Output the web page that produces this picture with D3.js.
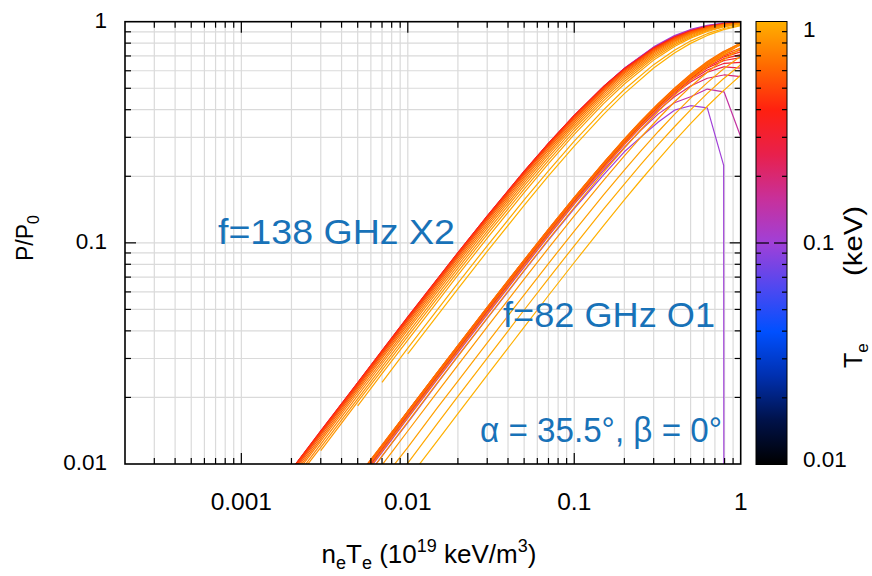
<!DOCTYPE html>
<html>
<head>
<meta charset="utf-8">
<script src="https://cdn.jsdelivr.net/npm/d3@7"></script>
<style>
  body { margin: 0; background: #fff; }
  text { font-family: "Liberation Sans", Arial, Helvetica, sans-serif; }
</style>
</head>
<body>
<svg id="chart" width="872" height="576"></svg>
<script>
// ---- data -------------------------------------------------------------
const xTicks = [0.001, 0.01, 0.1, 1];
const xTickLabels = ["0.001", "0.01", "0.1", "1"];
const yTicks = [0.01, 0.1, 1];
const yTickLabels = ["0.01", "0.1", "1"];
const cbTicks = [0.01, 0.1, 1];
const cbTickLabels = ["0.01", "0.1", "1"];

// electron temperatures (keV) of the plotted curves
const teValues = [0.10, 0.15, 0.20, 0.25, 0.30, 0.35, 0.40, 0.45, 0.50, 0.55,
                  0.60, 0.65, 0.70, 0.75, 0.80, 0.85, 0.90, 0.95, 1.00];

// f = 138 GHz, X2 : ne*Te sample points and P/P0 per temperature
const gridX2 = [0.002, 0.003, 0.005, 0.007, 0.01, 0.02, 0.03, 0.05, 0.07, 0.1,
                0.15, 0.2, 0.3, 0.4, 0.5, 0.63, 0.79, 1.0];
const powerX2 = [
  [.0091,.0136,.0225,.0314,.0446,.0874,.1285,.2057,.2768,.3727,.5074,.6154,.7695,.8650,.9226,.9638,.9865,.9966],
  [.0092,.0138,.0228,.0318,.0452,.0885,.1300,.2076,.2788,.3743,.5076,.6139,.7650,.8590,.9166,.9586,.9831,.9951],
  [.0094,.0139,.0231,.0322,.0457,.0895,.1313,.2093,.2807,.3760,.5086,.6136,.7625,.8551,.9123,.9548,.9804,.9936],
  [.0094,.0141,.0233,.0325,.0461,.0901,.1321,.2105,.2819,.3771,.5090,.6131,.7604,.8520,.9089,.9517,.9780,.9923],
  [.0094,.0141,.0233,.0325,.0461,.0901,.1320,.2102,.2814,.3762,.5074,.6109,.7573,.8486,.9056,.9489,.9760,.9911],
  [.0094,.0141,.0233,.0325,.0461,.0901,.1319,.2100,.2811,.3757,.5065,.6098,.7560,.8475,.9048,.9484,.9757,.9909],
  [.0094,.0139,.0231,.0322,.0457,.0895,.1310,.2086,.2794,.3737,.5044,.6078,.7544,.8462,.9037,.9476,.9752,.9907],
  [.0094,.0139,.0231,.0322,.0457,.0895,.1308,.2082,.2788,.3728,.5030,.6062,.7525,.8446,.9027,.9470,.9749,.9905],
  [.0092,.0138,.0228,.0318,.0452,.0884,.1294,.2063,.2763,.3700,.4999,.6031,.7499,.8424,.9007,.9456,.9740,.9901],
  [.0091,.0136,.0224,.0313,.0444,.0869,.1273,.2031,.2723,.3649,.4939,.5967,.7438,.8373,.8967,.9427,.9723,.9893],
  [.0089,.0133,.0220,.0307,.0435,.0852,.1250,.1995,.2677,.3592,.4870,.5893,.7368,.8314,.8920,.9394,.9703,.9883],
  [.0087,.0130,.0215,.0300,.0426,.0834,.1223,.1955,.2625,.3527,.4793,.5810,.7288,.8245,.8864,.9355,.9678,.9871],
  [.0085,.0127,.0210,.0292,.0415,.0814,.1194,.1910,.2568,.3456,.4706,.5717,.7197,.8166,.8800,.9308,.9649,.9856],
  [.0082,.0123,.0204,.0284,.0404,.0791,.1163,.1861,.2505,.3377,.4610,.5613,.7095,.8076,.8725,.9254,.9614,.9838],
  [.0080,.0119,.0197,.0275,.0391,.0767,.1128,.1809,.2437,.3290,.4504,.5498,.6979,.7973,.8640,.9190,.9572,.9815],
  [null,.0115,.0191,.0266,.0378,.0742,.1091,.1751,.2362,.3195,.4387,.5370,.6849,.7856,.8541,.9116,.9522,.9787],
  [null,null,.0183,.0256,.0363,.0714,.1051,.1689,.2282,.3093,.4259,.5229,.6704,.7724,.8428,.9028,.9462,.9753],
  [null,null,null,.0234,.0334,.0658,.0970,.1563,.2118,.2882,.3995,.4934,.6394,.7433,.8173,.8826,.9318,.9666],
  [null,null,null,null,.0315,.0620,.0915,.1479,.2007,.2739,.3812,.4727,.6171,.7220,.7981,.8668,.9202,.9592]
];

// f = 82 GHz, O1 : ne*Te sample points and P/P0 per temperature
const gridO1 = [0.004, 0.006, 0.008, 0.01, 0.015, 0.02, 0.03, 0.05, 0.07, 0.1,
                0.15, 0.2, 0.25, 0.32, 0.4, 0.5, 0.63, 0.79, 0.795, 1.0];
const powerO1 = [
  [.0062,.0093,.0124,.0154,.0231,.0308,.0455,.0746,.1030,.1430,.2030,.2580,.3000,.3520,.3980,.4170,.4080,.2240,.0001,null],
  [.0065,.0097,.0129,.0161,.0241,.0319,.0474,.0777,.1072,.1495,.2130,.2700,.3220,.3830,.4300,.4580,.4960,.4820,.4810,.3020],
  [.0066,.0099,.0132,.0165,.0247,.0327,.0486,.0797,.1097,.1530,.2180,.2780,.3330,.3980,.4580,.5120,.5550,.5740,.5750,.5640],
  [.0067,.0100,.0133,.0167,.0249,.0330,.0492,.0806,.1109,.1546,.2215,.2827,.3379,.4056,.4705,.5342,.5907,.6246,.6250,.6170],
  [.0068,.0102,.0135,.0169,.0252,.0334,.0497,.0815,.1122,.1563,.2241,.2859,.3419,.4110,.4776,.5440,.6051,.6467,.6475,.6550],
  [.0068,.0102,.0136,.0170,.0253,.0336,.0500,.0820,.1128,.1572,.2254,.2878,.3443,.4145,.4827,.5517,.6175,.6670,.6675,.6880],
  [.0069,.0103,.0137,.0171,.0255,.0338,.0503,.0824,.1134,.1580,.2267,.2895,.3466,.4175,.4867,.5574,.6261,.6804,.6810,.7100],
  [.0069,.0103,.0138,.0172,.0256,.0340,.0506,.0829,.1140,.1589,.2280,.2912,.3486,.4202,.4904,.5626,.6340,.6926,.6932,.7300],
  [.0069,.0104,.0138,.0173,.0258,.0342,.0509,.0833,.1147,.1597,.2292,.2928,.3506,.4228,.4933,.5671,.6406,.7023,.7029,.7450],
  [.0069,.0104,.0138,.0173,.0258,.0342,.0509,.0833,.1147,.1597,.2293,.2930,.3510,.4236,.4947,.5697,.6454,.7106,.7112,.7600],
  [.0070,.0104,.0139,.0173,.0258,.0343,.0510,.0836,.1150,.1601,.2300,.2940,.3524,.4257,.4984,.5748,.6537,.7248,.7253,.7841],
  [.0070,.0105,.0139,.0173,.0259,.0344,.0512,.0838,.1154,.1605,.2307,.2949,.3537,.4275,.5010,.5787,.6601,.7350,.7355,.8014],
  [.0068,.0102,.0135,.0169,.0252,.0334,.0497,.0815,.1122,.1563,.2250,.2880,.3458,.4188,.4918,.5697,.6521,.7297,.7303,.8007],
  [.0066,.0098,.0131,.0163,.0244,.0323,.0480,.0788,.1086,.1513,.2181,.2794,.3360,.4077,.4800,.5576,.6405,.7200,.7206,.7950],
  [.0062,.0093,.0124,.0155,.0232,.0307,.0457,.0751,.1036,.1444,.2086,.2680,.3229,.3930,.4642,.5416,.6257,.7084,.7093,.7899],
  [.0057,.0085,.0113,.0141,.0211,.0280,.0417,.0685,.0946,.1324,.1918,.2472,.2988,.3651,.4333,.5084,.5912,.6743,.6752,.7583],
  [.0048,.0072,.0096,.0119,.0179,.0237,.0353,.0582,.0806,.1131,.1647,.2134,.2592,.3189,.3812,.4512,.5304,.6125,.6137,.6988],
  [.0041,.0061,.0082,.0101,.0152,.0202,.0301,.0497,.0689,.0970,.1419,.1845,.2251,.2785,.3350,.3995,.4741,.5533,.5547,.6394],
  [.0034,.0051,.0068,.0085,.0127,.0169,.0252,.0416,.0578,.0815,.1197,.1563,.1914,.2381,.2882,.3462,.4146,.4890,.4905,.5726]
];

// colour map for Te (position 0 = 0.01 keV, 1 = 1 keV)
const paletteStops = [0, 0.1, 0.2, 0.3, 0.4, 0.5, 0.6, 0.7, 0.8, 0.9, 1];
const paletteColors = ["#000000", "#00124a", "#0030b0", "#0050ff", "#5048f0", "#a040d8",
                       "#c8309a", "#e8204c", "#ff2010", "#ff6a00", "#ffb000"];

// ---- layout -----------------------------------------------------------
const svg = d3.select("#chart");
const plot = { left: 125, right: 740.7, top: 21.7, bottom: 464 };
const cb = { left: 756, right: 787, top: 21.5, bottom: 464.5 };
const blue = "#1872b8";

const x = d3.scaleLog().domain([2e-4, 1]).range([plot.left, plot.right]);
const y = d3.scaleLog().domain([0.01, 1]).range([plot.bottom, plot.top]);
const cbScale = d3.scaleLog().domain([0.01, 1]).range([cb.bottom, cb.top]);

const teToPos = d3.scaleLog().domain([0.01, 1]).range([0, 1]);
const palette = d3.scaleLinear().domain(paletteStops).range(paletteColors)
  .interpolate(d3.interpolateRgb).clamp(true);
const teColor = te => palette(teToPos(te));

function minorValues(lo, hi) {
  const out = [];
  for (let e = Math.floor(Math.log10(lo)); e < Math.ceil(Math.log10(hi)); e++) {
    for (let m = 1; m < 10; m++) {
      const v = m * Math.pow(10, e);
      if (v >= lo * 0.999 && v <= hi * 1.001) out.push(v);
    }
  }
  return out;
}
const xAll = minorValues(2e-4, 1);
const yAll = minorValues(0.01, 1);

// ---- grid -------------------------------------------------------------
const grid = svg.append("g").attr("stroke", "#dadada").attr("stroke-width", 1.2);
grid.selectAll("line.gx").data(xAll.filter(v => v > 2e-4 && v < 1)).join("line")
  .attr("x1", d => x(d)).attr("x2", d => x(d))
  .attr("y1", plot.top).attr("y2", plot.bottom);
grid.selectAll("line.gy").data(yAll.filter(v => v > 0.01 && v < 1)).join("line")
  .attr("x1", plot.left).attr("x2", plot.right)
  .attr("y1", d => y(d)).attr("y2", d => y(d));

// ---- curves -----------------------------------------------------------
svg.append("clipPath").attr("id", "plotClip").append("rect")
  .attr("x", plot.left).attr("y", plot.top)
  .attr("width", plot.right - plot.left).attr("height", plot.bottom - plot.top);

const line = d3.line()
  .defined(d => d[1] != null && d[1] > 0)
  .x(d => x(d[0])).y(d => y(d[1]));

const curves = svg.append("g").attr("clip-path", "url(#plotClip)")
  .attr("fill", "none").attr("stroke-width", 1.2).attr("stroke-linejoin", "round");

function drawFamily(grid, rows) {
  rows.forEach((row, i) => {
    const pts = grid.map((g, k) => [g, row[k]]);
    curves.append("path").attr("d", line(pts)).attr("stroke", teColor(teValues[i]));
  });
}
drawFamily(gridX2, powerX2);
drawFamily(gridO1, powerO1);

// ---- frame and ticks ----------------------------------------------------
const axes = svg.append("g").attr("stroke", "#000");
axes.append("rect").attr("x", plot.left).attr("y", plot.top)
  .attr("width", plot.right - plot.left).attr("height", plot.bottom - plot.top)
  .attr("fill", "none").attr("stroke-width", 1.6);

const isMajor = v => Math.abs(Math.log10(v) - Math.round(Math.log10(v))) < 1e-6;
const xt = xAll.filter(v => v > 2.01e-4 && v < 0.999);
xt.forEach(v => {
  const len = isMajor(v) ? 11 : 6;
  axes.append("line").attr("x1", x(v)).attr("x2", x(v))
    .attr("y1", plot.bottom).attr("y2", plot.bottom - len).attr("stroke-width", 1.2);
  axes.append("line").attr("x1", x(v)).attr("x2", x(v))
    .attr("y1", plot.top).attr("y2", plot.top + len).attr("stroke-width", 1.2);
});
const yt = yAll.filter(v => v > 0.0101 && v < 0.999);
yt.forEach(v => {
  const len = isMajor(v) ? 11 : 6;
  axes.append("line").attr("x1", plot.left).attr("x2", plot.left + len)
    .attr("y1", y(v)).attr("y2", y(v)).attr("stroke-width", 1.2);
  axes.append("line").attr("x1", plot.right).attr("x2", plot.right - len)
    .attr("y1", y(v)).attr("y2", y(v)).attr("stroke-width", 1.2);
});

// tick labels
const labels = svg.append("g").attr("fill", "#000");
labels.selectAll("text.xl").data(xTicks).join("text")
  .attr("font-size", 24.5)
  .attr("x", d => x(d)).attr("y", 510).attr("text-anchor", "middle")
  .text((d, i) => xTickLabels[i]);
labels.selectAll("text.yl").data(yTicks).join("text")
  .attr("font-size", 22.5)
  .attr("x", 107).attr("y", d => y(d) + 6).attr("text-anchor", "end")
  .text((d, i) => yTickLabels[i]);

// axis titles
const xTitle = svg.append("text").attr("x", 429).attr("y", 563)
  .attr("text-anchor", "middle").attr("font-size", 26);
xTitle.append("tspan").text("n");
xTitle.append("tspan").attr("font-size", 18).attr("dy", 6).text("e");
xTitle.append("tspan").attr("dy", -6).text("T");
xTitle.append("tspan").attr("font-size", 18).attr("dy", 6).text("e");
xTitle.append("tspan").attr("dy", -6).text(" (10");
xTitle.append("tspan").attr("font-size", 18).attr("dy", -11).text("19");
xTitle.append("tspan").attr("dy", 11).text(" keV/m");
xTitle.append("tspan").attr("font-size", 18).attr("dy", -11).text("3");
xTitle.append("tspan").attr("dy", 11).text(")");

const yTitle = svg.append("text")
  .attr("transform", "translate(33,238) rotate(-90)")
  .attr("text-anchor", "middle").attr("font-size", 23);
yTitle.append("tspan").text("P/P");
yTitle.append("tspan").attr("font-size", 16).attr("dy", 6).text("0");

// ---- annotations --------------------------------------------------------
const notes = svg.append("g").attr("fill", blue).attr("font-size", 35);
notes.append("text").attr("x", 218).attr("y", 244)
  .attr("textLength", 237).attr("lengthAdjust", "spacingAndGlyphs").text("f=138 GHz X2");
notes.append("text").attr("x", 503).attr("y", 327)
  .attr("textLength", 212).attr("lengthAdjust", "spacingAndGlyphs").text("f=82 GHz O1");
notes.append("text").attr("x", 480).attr("y", 442)
  .attr("textLength", 242).attr("lengthAdjust", "spacingAndGlyphs").text("α = 35.5°, β = 0°");

// ---- colour bar ---------------------------------------------------------
const grad = svg.append("defs").append("linearGradient").attr("id", "teGrad")
  .attr("x1", 0).attr("y1", 1).attr("x2", 0).attr("y2", 0);
paletteStops.forEach((s, i) => {
  grad.append("stop").attr("offset", s).attr("stop-color", paletteColors[i]);
});
svg.append("rect").attr("x", cb.left).attr("y", cb.top)
  .attr("width", cb.right - cb.left).attr("height", cb.bottom - cb.top)
  .attr("fill", "url(#teGrad)").attr("stroke", "#000").attr("stroke-width", 1);

const cbt = minorValues(0.01, 1).filter(v => v > 0.0101 && v < 0.999);
const cbAxis = svg.append("g").attr("stroke", "#000").attr("stroke-width", 1.2);
cbt.forEach(v => {
  const len = isMajor(v) ? 13 : 5;
  cbAxis.append("line").attr("x1", cb.left).attr("x2", cb.left + len)
    .attr("y1", cbScale(v)).attr("y2", cbScale(v));
  cbAxis.append("line").attr("x1", cb.right).attr("x2", cb.right - len)
    .attr("y1", cbScale(v)).attr("y2", cbScale(v));
});
const cbOffsets = [2, 7, 15];
labels.selectAll("text.cl").data(cbTicks).join("text")
  .attr("font-size", 22.5)
  .attr("x", 803).attr("y", (d, i) => cbScale(d) + cbOffsets[i])
  .text((d, i) => cbTickLabels[i]);

// colour-bar title: symbol low, unit level with the "0.1" label
const cbTitle = svg.append("g").attr("transform", "translate(862,0) rotate(-90)")
  .attr("font-size", 25);
const sym = cbTitle.append("text").attr("x", -368).attr("y", 0);
sym.append("tspan").text("T");
sym.append("tspan").attr("font-size", 17).attr("dy", 6).text("e");
cbTitle.append("text").attr("x", -276).attr("y", 0)
  .attr("textLength", 70).attr("lengthAdjust", "spacingAndGlyphs").text("(keV)");
</script>
</body>
</html>
